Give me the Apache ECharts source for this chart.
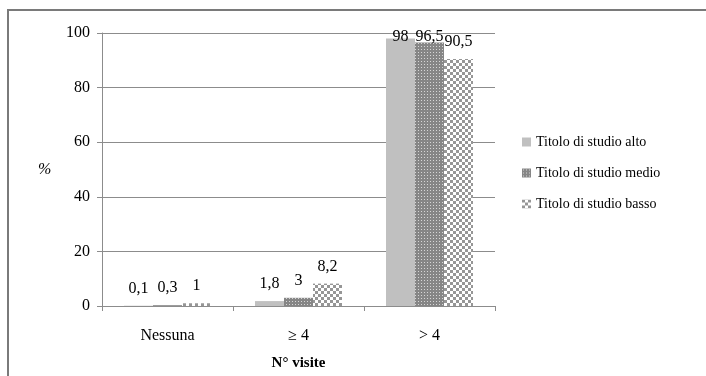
<!DOCTYPE html>
<html><head><meta charset="utf-8">
<script src="https://cdn.jsdelivr.net/npm/echarts@6/dist/echarts.min.js"></script>
<style>html,body{margin:0;padding:0;background:#fff}#c{width:706px;height:376px}</style>
</head><body><div id="c"></div>
<script>
const categories = ['Nessuna', '\u2265 4', '> 4'];
const seriesNames = ['Titolo di studio alto', 'Titolo di studio medio', 'Titolo di studio basso'];
const alto = [0.1, 1.8, 98];
const medio = [0.3, 3, 96.5];
const basso = [1, 8.2, 90.5];
const yTicks = [0, 20, 40, 60, 80, 100];

function makeDots() {
  const c = document.createElement('canvas'); c.width = 3; c.height = 3;
  const x = c.getContext('2d');
  x.fillStyle = '#868686'; x.fillRect(0, 0, 3, 3);
  x.fillStyle = '#d6d6d6'; x.fillRect(1, 1, 1, 1);
  return c;
}
function makeChecker() {
  const c = document.createElement('canvas'); c.width = 6; c.height = 6;
  const x = c.getContext('2d');
  x.fillStyle = '#ffffff'; x.fillRect(0, 0, 6, 6);
  x.fillStyle = '#969696'; x.fillRect(0, 0, 3, 3); x.fillRect(3, 3, 3, 3);
  return c;
}
const fills = ['#c0c0c0', { image: makeDots(), repeat: 'repeat' }, { image: makeChecker(), repeat: 'repeat' }];
const font = '"Liberation Serif", "DejaVu Serif", serif';
const fmt = p => String(p.value).replace('.', ',');
const LBL = 16, GAP = 9;

const chart = echarts.init(document.getElementById('c'), null, { renderer: 'canvas' });
const data = [alto, medio, basso];
function build(distances) {
  return {
    animation: false,
    textStyle: { fontFamily: font },
    grid: { left: 102, top: 33, right: 211, bottom: 69, containLabel: false },
    graphic: [
      { type: 'rect', shape: { x: 8, y: 10, width: 760, height: 420 }, style: { fill: 'none', stroke: '#7a7a7a', lineWidth: 2 } },
      { type: 'text', left: 38, top: 162, style: { text: '%', font: 'italic 16px ' + font, fill: '#000' } }
    ],
    legend: {
      orient: 'vertical', left: 517, top: 130, itemGap: 17,
      icon: 'rect', itemWidth: 9, itemHeight: 9,
      textStyle: { fontFamily: font, fontSize: 14, color: '#000' },
      data: seriesNames
    },
    xAxis: {
      type: 'category', data: categories,
      name: 'N\u00b0 visite', nameLocation: 'middle', nameGap: 50,
      nameTextStyle: { fontFamily: font, fontSize: 15, fontWeight: 'bold', color: '#000' },
      axisLine: { lineStyle: { color: '#8c8c8c' } },
      axisTick: { show: true, length: 5, lineStyle: { color: '#8c8c8c' } },
      axisLabel: { fontFamily: font, fontSize: 16, color: '#000', margin: 22 }
    },
    yAxis: {
      type: 'value', min: 0, max: 100, interval: 20,
      axisLine: { show: true, lineStyle: { color: '#8c8c8c' } },
      axisTick: { show: true, length: 5, lineStyle: { color: '#8c8c8c' } },
      splitLine: { lineStyle: { color: '#8c8c8c' } },
      axisLabel: { fontFamily: font, fontSize: 16, color: '#000', margin: 12,
        formatter: v => yTicks.includes(v) ? String(v) : '' }
    },
    series: seriesNames.map((n, i) => ({
      name: n, type: 'bar', barWidth: 29, barGap: '0%',
      data: data[i].map((v, j) => ({
        value: v,
        label: { distance: distances ? distances[i][j] : GAP }
      })),
      itemStyle: { color: fills[i] },
      label: { show: true, position: 'top', fontFamily: font, fontSize: LBL, color: '#000', formatter: fmt }
    }))
  };
}
chart.setOption(build(null));
// Keep labels inside the plot area (as the original does): clamp label centre near the plot top
const topY = chart.convertToPixel({ yAxisIndex: 0 }, 100);
const minCenter = topY + 4;
const distances = data.map(arr => arr.map(v => {
  const barTop = chart.convertToPixel({ yAxisIndex: 0 }, v);
  const center = barTop - GAP - LBL / 2;
  return center < minCenter ? barTop - minCenter - LBL / 2 : GAP;
}));
chart.setOption(build(distances));
</script></body></html>
